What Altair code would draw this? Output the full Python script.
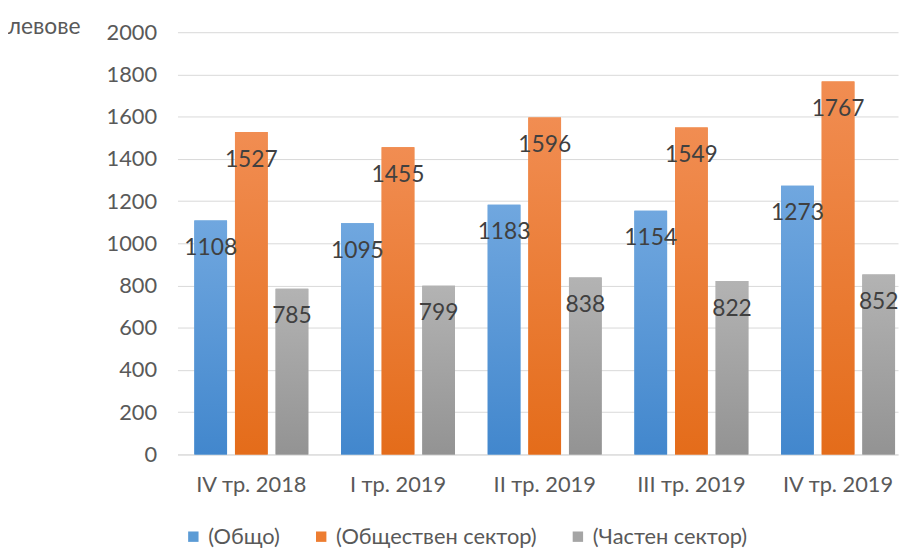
import altair as alt
import pandas as pd

categories = ["IV тр. 2018", "I тр. 2019", "II тр. 2019", "III тр. 2019", "IV тр. 2019"]
series = ["(Общо)", "(Обществен сектор)", "(Частен сектор)"]
obshto = [1108, 1095, 1183, 1154, 1273]
obshtestven = [1527, 1455, 1596, 1549, 1767]
chasten = [785, 799, 838, 822, 852]

solid = ["#5b9bd5", "#ed7d31", "#a5a5a5"]
grads = [
    ("#70a7df", "#4287cd"),
    ("#f18d52", "#e46c1a"),
    ("#b3b3b3", "#939393"),
]

rows = []
for i, c in enumerate(categories):
    for s, vals in zip(series, [obshto, obshtestven, chasten]):
        rows.append({"cat": c, "series": s, "value": vals[i]})
df = pd.DataFrame(rows)

x_enc = alt.X("cat:N", sort=categories, title=None,
              scale=alt.Scale(paddingInner=0.223, paddingOuter=0.0676, align=0.85),
              axis=alt.Axis(labelAngle=0, labelFontSize=22, labelColor="#595959",
                            ticks=False, domainColor="#d9d9d9", labelPadding=20))
xo_enc = alt.XOffset("series:N", sort=series,
                     scale=alt.Scale(domain=series, paddingInner=0.195, paddingOuter=0))
y_enc = alt.Y("value:Q", scale=alt.Scale(domain=[0, 2000]),
              axis=alt.Axis(values=list(range(0, 2001, 200)), format="d", labelFontSize=22,
                            labelColor="#595959", ticks=False, domain=False,
                            gridColor="#d9d9d9", labelPadding=21,
                            title="левове", titleAngle=0, titleX=-135, titleY=-6,
                            titleAlign="center", titleBaseline="middle",
                            titleFontSize=23, titleFontWeight="normal",
                            titleColor="#595959"))

base = alt.Chart(df)

legend_layer = base.mark_bar().encode(
    x=x_enc, xOffset=xo_enc, y=y_enc,
    color=alt.Color("series:N", sort=series,
                    scale=alt.Scale(domain=series, range=solid),
                    legend=alt.Legend(title=None, orient="none", direction="horizontal",
                                      legendX=5, legendY=498, symbolType="square",
                                      symbolSize=110, symbolStrokeWidth=0,
                                      labelFontSize=22, labelColor="#595959",
                                      labelLimit=0, labelOffset=4, columnPadding=30)),
)

layers = [legend_layer]
for s, (top, bot) in zip(series, grads):
    layers.append(
        base.transform_filter(alt.datum.series == s).mark_bar(
            color=alt.Gradient(gradient="linear", x1=0, y1=0, x2=0, y2=1,
                               stops=[alt.GradientStop(color=top, offset=0),
                                      alt.GradientStop(color=bot, offset=1)])
        ).encode(x=x_enc, xOffset=xo_enc, y=y_enc)
    )

labels = base.mark_text(fontSize=23, color="#404040", baseline="middle", dy=28).encode(
    x=x_enc, xOffset=xo_enc, y=y_enc, text="value:Q")
layers.append(labels)

chart = alt.layer(*layers).properties(
    width=727, height=426,
    autosize=alt.AutoSizeParams(type="none"),
    padding={"left": 171, "top": 22, "right": 2, "bottom": 92},
).configure(font="Lato").configure_view(stroke=None)

chart.save("out.html", embed_options={"renderer": "svg", "actions": False})
